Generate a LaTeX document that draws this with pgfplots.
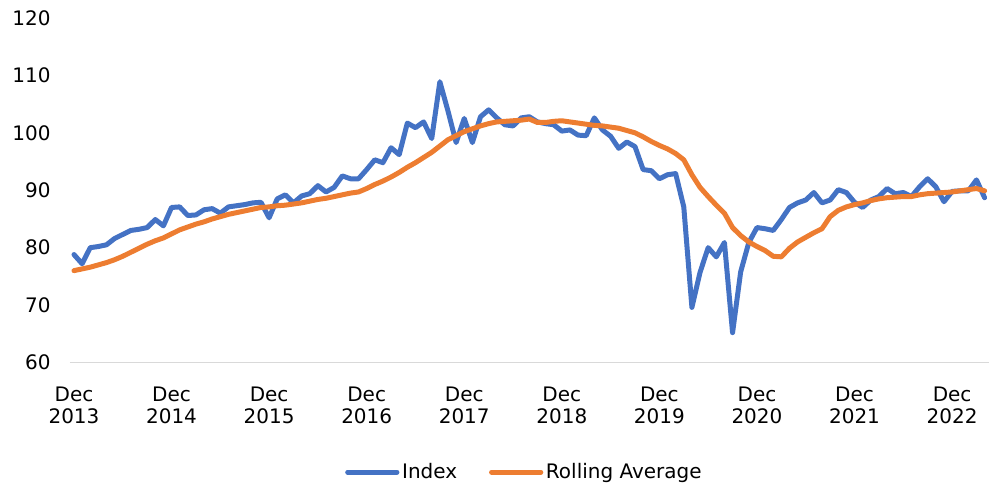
\documentclass[border=0pt]{standalone}
\usepackage{pgfplots}
\pgfplotsset{compat=1.18}
\usepackage{pgfplotstable}
\usepackage{fontspec}
\setmainfont{DejaVu Sans}
\definecolor{idxblue}{HTML}{4472C4}
\definecolor{avgorange}{HTML}{ED7D31}
\definecolor{axisgray}{HTML}{D9D9D9}

% m = months since Dec 2013
\pgfplotstableread{
m idx avg
0 78.8 76.0
1 77.2 76.3
2 80.0 76.6
3 80.2 77.0
4 80.5 77.4
5 81.6 77.9
6 82.3 78.5
7 83.0 79.2
8 83.2 79.9
9 83.5 80.6
10 84.9 81.2
11 83.8 81.7
12 87.0 82.4
13 87.1 83.1
14 85.6 83.6
15 85.7 84.1
16 86.6 84.5
17 86.8 85.0
18 86.0 85.4
19 87.1 85.8
20 87.3 86.1
21 87.5 86.4
22 87.8 86.7
23 87.9 87.0
24 85.2 87.1
25 88.5 87.3
26 89.2 87.4
27 87.8 87.6
28 89.0 87.8
29 89.4 88.1
30 90.8 88.4
31 89.7 88.6
32 90.5 88.9
33 92.5 89.2
34 92.0 89.5
35 92.0 89.7
36 93.6 90.3
37 95.3 91.0
38 94.8 91.6
39 97.4 92.3
40 96.2 93.1
41 101.7 94.0
42 100.9 94.8
43 101.9 95.7
44 99.0 96.6
45 108.9 97.7
46 103.8 98.8
47 98.3 99.5
48 102.5 100.2
49 98.3 100.7
50 102.8 101.2
51 104.0 101.6
52 102.6 101.9
53 101.4 102.0
54 101.2 102.1
55 102.6 102.2
56 102.8 102.4
57 101.9 101.8
58 101.6 101.8
59 101.4 102.0
60 100.3 102.1
61 100.5 101.9
62 99.6 101.7
63 99.5 101.5
64 102.6 101.3
65 100.5 101.2
66 99.4 101.0
67 97.3 100.8
68 98.4 100.4
69 97.6 100.0
70 93.6 99.3
71 93.4 98.5
72 92.0 97.8
73 92.7 97.2
74 92.9 96.4
75 87.1 95.3
76 69.6 92.7
77 75.7 90.5
78 80.0 88.9
79 78.4 87.4
80 80.9 86.0
81 65.2 83.5
82 75.8 82.1
83 80.9 81.0
84 83.5 80.2
85 83.3 79.5
86 83.0 78.5
87 84.9 78.4
88 87.0 79.9
89 87.8 81.0
90 88.3 81.8
91 89.6 82.6
92 87.8 83.3
93 88.3 85.4
94 90.1 86.5
95 89.6 87.1
96 87.9 87.5
97 87.0 87.8
98 88.3 88.2
99 88.9 88.5
100 90.3 88.7
101 89.4 88.8
102 89.6 88.9
103 88.9 88.9
104 90.6 89.2
105 92.0 89.4
106 90.6 89.5
107 88.0 89.6
108 89.8 89.7
109 89.9 89.9
110 89.9 90.1
111 91.8 90.3
112 88.7 89.9
}\datatable

\begin{document}
\begin{tikzpicture}
\path[use as bounding box] (-52.5pt,-93.75pt) rectangle (691pt,272.25pt);
\begin{axis}[
    scale only axis,
    width=690pt, height=258.75pt,
    xmin=-0.5, xmax=112.5,
    ymin=60, ymax=120,
    ytick={60,70,...,120},
    xtick={0,12,...,108},
    xticklabels={Dec\\2013,Dec\\2014,Dec\\2015,Dec\\2016,Dec\\2017,Dec\\2018,Dec\\2019,Dec\\2020,Dec\\2021,Dec\\2022},
    axis line style={draw=none},
    major tick length=0pt,
    extra y ticks={60},
    extra y tick labels={},
    extra y tick style={grid=major, major grid style={axisgray, line width=1pt}},
    /pgf/number format/assume math mode=true,
    tick label style={font=\fontsize{15}{16.5}\selectfont},
    xticklabel style={align=center, yshift=-15pt},
    yticklabel style={xshift=-11pt},
    legend style={at={(0.495,-0.318)}, anchor=center, draw=none,
        font=\fontsize{15}{18}\selectfont,
        /tikz/every even column/.append style={column sep=22pt}},
    legend columns=2,
    legend image code/.code={\draw[#1] (0pt,0pt) -- (37pt,0pt);},
]
\addplot[idxblue, line width=3.75pt, line join=round, line cap=round] table[x=m, y=idx] {\datatable};
\addlegendentry{Index}
\addplot[avgorange, line width=3.75pt, line join=round, line cap=round] table[x=m, y=avg] {\datatable};
\addlegendentry{Rolling Average}
\end{axis}
\end{tikzpicture}
\end{document}
